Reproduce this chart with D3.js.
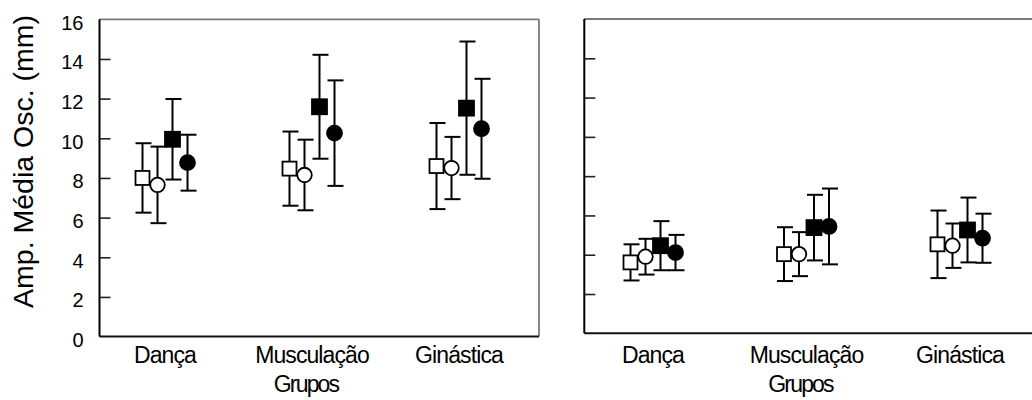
<!DOCTYPE html>
<html>
<head>
<meta charset="utf-8">
<script src="https://cdn.jsdelivr.net/npm/d3@7"></script>
<style>
  body { margin: 0; background: #fff; }
  text { font-family: Arial, "Liberation Sans", sans-serif; fill: #000; }
</style>
</head>
<body>
<svg id="chart" width="1032" height="400"></svg>
<script>
// Groups on the x axis
const categories = ["Dança", "Musculação", "Ginástica"];
const xTitle = "Grupos";
const yTitle = "Amp. Média Osc. (mm)";
const yTickValues = [0, 2, 4, 6, 8, 10, 12, 14, 16];

// Means and standard deviations, one row per group,
// columns: open square, open circle, filled square, filled circle
const leftMeans = [
  [8.00, 7.65, 9.95, 8.77],
  [8.47, 8.15, 11.59, 10.26],
  [8.60, 8.50, 11.52, 10.48]
];
const leftSDs = [
  [1.75, 1.93, 2.03, 1.41],
  [1.87, 1.78, 2.62, 2.66],
  [2.17, 1.57, 3.36, 2.52]
];
const rightMeans = [
  [3.61, 3.90, 4.46, 4.11],
  [4.03, 4.03, 5.38, 5.44],
  [4.53, 4.46, 5.26, 4.84]
];
const rightSDs = [
  [0.92, 0.91, 1.25, 0.90],
  [1.37, 1.12, 1.67, 1.93],
  [1.72, 1.13, 1.65, 1.25]
];

// Marker look for each of the four series
const seriesStyle = [
  { shape: "square", fill: "#fff", size: 14 },
  { shape: "circle", fill: "#fff", size: 14.5 },
  { shape: "square", fill: "#000", size: 15 },
  { shape: "circle", fill: "#000", size: 15 }
];
const seriesOffset = d3.scaleLinear().domain([0, 3]).range([-22.5, 22.5]);

const svg = d3.select("#chart");
svg.append("rect").attr("width", 1032).attr("height", 400).attr("fill", "#fff");

const panels = [
  { left: 99.5, right: 539, top: 19.3, bottom: 336.6, xRange: [165, 459],
    means: leftMeans, sds: leftSDs, yLabels: true, rightBorder: true },
  { left: 584.3, right: 1040, top: 19, bottom: 333.3, xRange: [653, 960],
    means: rightMeans, sds: rightSDs, yLabels: false, rightBorder: false }
];

panels.forEach(p => {
  const g = svg.append("g");
  const x = d3.scalePoint().domain(categories).range(p.xRange);
  const y = d3.scaleLinear().domain([0, 16]).range([p.bottom, p.top]);

  // y ticks pointing into the plot area
  const yAxis = d3.axisLeft(y)
    .tickValues(yTickValues)
    .tickSizeInner(-11)
    .tickSizeOuter(0)
    .tickPadding(16)
    .tickFormat(p.yLabels ? d3.format("d") : () => "");
  const ay = g.append("g")
    .attr("transform", `translate(${p.left},0)`)
    .call(yAxis);
  ay.select(".domain").remove();
  ay.selectAll(".tick line")
    .attr("stroke", "#222")
    .attr("stroke-width", 1.6)
    .attr("display", d => (d === 0 || d === 16) ? "none" : null);
  ay.selectAll(".tick text")
    .attr("font-size", 20)
    .attr("dy", "0.5em")
    .attr("fill", "#000");

  // frame: dark left/bottom axes, grey top/right edges
  g.append("line").attr("x1", p.left).attr("x2", p.right)
    .attr("y1", p.top).attr("y2", p.top)
    .attr("stroke", "#7a7a7a").attr("stroke-width", 1.8);
  if (p.rightBorder) {
    g.append("line").attr("x1", p.right).attr("x2", p.right)
      .attr("y1", p.top).attr("y2", p.bottom)
      .attr("stroke", "#7a7a7a").attr("stroke-width", 1.8);
  }
  g.append("line").attr("x1", p.left).attr("x2", p.right)
    .attr("y1", p.bottom).attr("y2", p.bottom)
    .attr("stroke", "#111").attr("stroke-width", 2);
  g.append("line").attr("x1", p.left).attr("x2", p.left)
    .attr("y1", p.top).attr("y2", p.bottom)
    .attr("stroke", "#000").attr("stroke-width", 2);

  // category labels and the x title
  g.selectAll("text.cat").data(categories).join("text")
    .attr("class", "cat")
    .attr("x", d => x(d))
    .attr("y", 363)
    .attr("text-anchor", "middle")
    .attr("font-size", 23)
    .attr("letter-spacing", -0.9)
    .text(d => d);
  g.append("text")
    .attr("x", x(categories[1]) - 6)
    .attr("y", 392)
    .attr("text-anchor", "middle")
    .attr("font-size", 23)
    .attr("letter-spacing", -1.8)
    .text(xTitle);

  // error bars and markers, series drawn in order
  const capHalf = 8;
  categories.forEach((cat, ci) => {
    seriesStyle.forEach((s, si) => {
      const m = p.means[ci][si];
      const sd = p.sds[ci][si];
      const cx = x(cat) + seriesOffset(si);
      const yHi = y(m + sd), yLo = y(m - sd), yM = y(m);
      const bar = g.append("g").attr("stroke", "#000").attr("stroke-width", 2);
      bar.append("line").attr("x1", cx).attr("x2", cx).attr("y1", yHi).attr("y2", yLo);
      bar.append("line").attr("x1", cx - capHalf + 1).attr("x2", cx + capHalf + 1).attr("y1", yHi).attr("y2", yHi);
      bar.append("line").attr("x1", cx - capHalf + 1).attr("x2", cx + capHalf + 1).attr("y1", yLo).attr("y2", yLo);
      if (s.shape === "square") {
        g.append("rect")
          .attr("x", cx - s.size / 2).attr("y", yM - s.size / 2)
          .attr("width", s.size).attr("height", s.size)
          .attr("fill", s.fill).attr("stroke", "#000").attr("stroke-width", 1.8);
      } else {
        g.append("circle")
          .attr("cx", cx).attr("cy", yM).attr("r", s.size / 2)
          .attr("fill", s.fill).attr("stroke", "#000").attr("stroke-width", 1.8);
      }
    });
  });
});

// y axis title
svg.append("text")
  .attr("transform", "translate(33,161.5) rotate(-90)")
  .attr("text-anchor", "middle")
  .attr("font-size", 28.5)
  .text(yTitle);
</script>
</body>
</html>
